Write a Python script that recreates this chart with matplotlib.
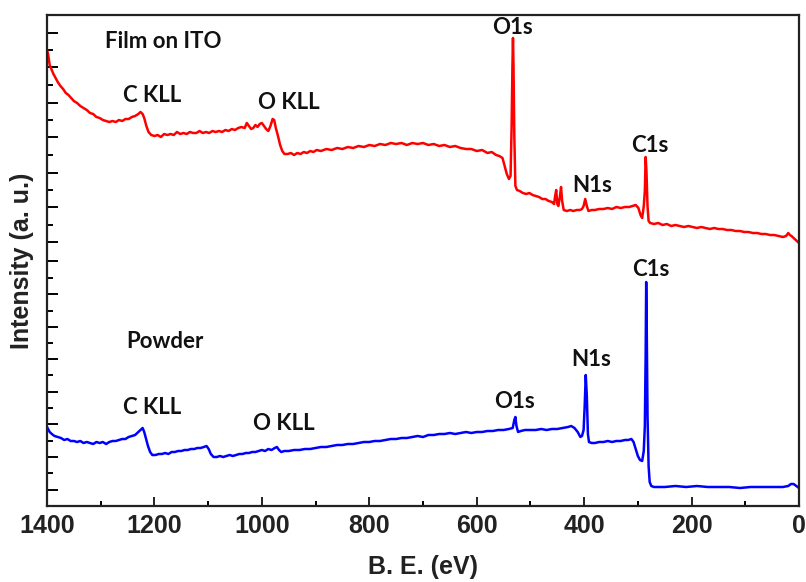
import matplotlib
matplotlib.use("Agg")
import matplotlib.pyplot as plt
from matplotlib.ticker import FixedLocator, MultipleLocator

# XPS survey spectra, binding energy (eV) vs intensity (a.u.)
film_be = [1400, 1398, 1395, 1392, 1388, 1384, 1380, 1375, 1370, 1365, 1360, 1355, 1350, 1344,
           1338, 1332, 1326, 1320, 1314, 1308, 1302, 1296, 1290, 1284, 1278, 1272, 1266, 1260,
           1254, 1248, 1242, 1236, 1230, 1226, 1222, 1219, 1215, 1211, 1206, 1200, 1194, 1188,
           1182, 1176, 1170, 1164, 1158, 1152, 1146, 1140, 1134, 1128, 1122, 1116, 1110, 1104,
           1098, 1092, 1086, 1080, 1074, 1068, 1062, 1056, 1050, 1044, 1038, 1032, 1028, 1024,
           1020, 1016, 1012, 1008, 1004, 1000, 996, 992, 988, 984, 980, 977, 974, 970, 966, 962,
           958, 952, 946, 940, 934, 928, 922, 916, 910, 904, 898, 890, 880, 870, 860, 850, 840,
           830, 820, 810, 800, 790, 780, 770, 760, 750, 740, 730, 720, 710, 700, 690, 680, 670,
           660, 650, 640, 630, 620, 610, 600, 590, 580, 572, 564, 558, 552, 548, 544, 540, 537,
           535, 533.5, 532.5, 531.5, 530, 528, 525, 520, 514, 508, 502, 496, 490, 484, 478, 472,
           466, 460, 456, 454, 452, 450, 448, 445, 443, 441, 438, 432, 426, 420, 414, 408, 404,
           401, 398, 395, 392, 386, 380, 372, 364, 356, 348, 340, 332, 324, 316, 310, 304, 299,
           295, 292, 289, 287, 285.5, 284, 282, 280, 277, 270, 262, 254, 246, 238, 230, 222, 214,
           206, 198, 190, 182, 174, 166, 158, 150, 142, 134, 126, 118, 110, 102, 94, 86, 78, 70,
           62, 54, 46, 38, 30, 24, 20, 17, 14, 10, 6, 2, 0]
film_int = [456, 452, 441, 437, 432, 428, 424, 420, 417, 413, 411, 408, 405, 403,
            400, 398, 396, 393, 392, 389, 388, 386, 385, 384, 385, 384, 386, 385,
            387, 387, 389, 390, 392, 394, 392, 388, 380, 374, 371, 370, 371, 369,
            372, 371, 372, 371, 374, 372, 373, 372, 374, 373, 373, 375, 373, 374,
            373, 375, 374, 375, 374, 376, 375, 377, 376, 378, 379, 378, 383, 380,
            377, 378, 381, 379, 382, 383, 380, 377, 375, 380, 387, 386, 378, 370, 361, 355,
            352, 352, 353, 351, 353, 352, 354, 353, 355, 354, 356, 355, 357, 356, 358, 357, 359,
            358, 360, 359, 361, 360, 362, 361, 363, 362, 363, 361, 363, 362, 363, 361, 362, 360,
            361, 359, 360, 358, 357, 357, 355, 356, 353, 354, 351, 350, 348, 340, 332, 327, 330,
            380, 440, 468, 440, 370, 320, 316, 315, 313, 312, 313, 311, 310, 309, 307, 307,
            305, 304, 302, 310, 316, 302, 300, 310, 319, 305, 296, 295, 296, 295, 296, 296, 297,
            300, 307, 300, 295, 296, 296, 297, 297, 298, 297, 299, 298, 299, 299, 300, 301, 298,
            291, 288, 300, 315, 349, 335, 300, 285, 283, 282, 283, 281, 282, 280, 281, 280, 279,
            280, 279, 278, 279, 278, 277, 278, 277, 277, 276, 276, 275, 275, 274, 274, 273, 273, 272,
            272, 271, 271, 270, 269, 270, 273, 271, 270, 268, 266, 264, 263]

powder_be = [1400, 1398, 1395, 1391, 1386, 1380, 1374, 1368, 1362, 1356, 1350, 1344, 1338, 1332,
             1326, 1320, 1314, 1308, 1302, 1296, 1290, 1284, 1278, 1272, 1266, 1260, 1254, 1248,
             1242, 1236, 1230, 1226, 1222, 1219, 1216, 1212, 1208, 1204, 1198, 1192, 1186, 1180,
             1174, 1168, 1162, 1156, 1150, 1144, 1138, 1132, 1126, 1120, 1114, 1108, 1103, 1099,
             1095, 1090, 1084, 1078, 1072, 1066, 1060, 1054, 1048, 1042, 1036, 1030, 1024, 1018,
             1012, 1006, 1000, 994, 988, 982, 976, 972, 968, 964, 958, 950, 940, 930, 920, 910,
             900, 890, 880, 870, 860, 850, 840, 830, 820, 810, 800, 790, 780, 770, 760, 750, 740,
             730, 720, 710, 700, 690, 680, 670, 660, 650, 640, 630, 620, 610, 600, 590, 580, 570,
             560, 550, 540, 533, 530, 528, 526, 523, 518, 510, 500, 490, 480, 470, 460, 450, 440,
             430, 424, 418, 412, 407, 404, 401, 399, 397, 395, 393, 391, 386, 380, 372, 364, 356,
             348, 340, 332, 324, 318, 312, 308, 304, 300, 296, 292, 289, 287, 285.5, 284.5, 283.5,
             282, 280, 278, 275, 270, 260, 250, 230, 210, 190, 170, 150, 130, 110, 90, 70, 50, 30,
             20, 15, 10, 5, 0]
powder_int = [79, 77, 74, 72, 70, 69, 68, 66, 67, 65, 65, 64, 65, 63,
              64, 63, 62, 64, 63, 64, 62, 64, 65, 65, 66, 67, 67, 69,
              70, 71, 74, 76, 78, 74, 68, 60, 54, 51, 51, 52, 52, 53,
              52, 54, 54, 55, 55, 56, 56, 57, 57, 58, 58, 59, 60, 57,
              52, 49, 49, 50, 49, 50, 51, 50, 51, 52, 52, 53, 53, 54,
              54, 55, 56, 55, 57, 56, 58, 59, 56, 54, 55, 55, 56, 56, 57, 57,
              58, 59, 59, 60, 61, 61, 62, 62, 63, 64, 64, 65, 65, 66, 67, 67, 68,
              68, 69, 70, 69, 71, 71, 72, 72, 73, 72, 73, 74, 73, 74, 74, 75, 75,
              76, 76, 77, 78, 86, 89, 80, 74, 75, 76, 76, 76, 77, 76, 77, 77, 78,
              79, 80, 78, 74, 69, 70, 76, 100, 131, 110, 72, 64, 63, 63, 64, 64, 65,
              64, 65, 65, 66, 66, 67, 64, 57, 50, 46, 45, 55, 80, 150, 224, 180,
              90, 40, 24, 20, 19, 19, 19, 20, 19, 20, 19, 19, 19, 18, 19, 19, 19, 19,
              20, 22, 22, 20, 18]

# peak labels: (text, BE, intensity)
film_labels = [("Film on ITO", 1184, 465), ("C KLL", 1204, 411), ("O KLL", 949, 404),
               ("O1s", 534, 479), ("N1s", 385, 321), ("C1s", 277, 361)]
powder_labels = [("Powder", 1180, 164), ("C KLL", 1204, 99), ("O KLL", 959, 83),
                 ("O1s", 529, 104), ("N1s", 387, 147), ("C1s", 275, 236)]

y_major = [473.3, 438.7, 403.3, 368.7, 333.3, 298.7, 263.7, 245.3, 212, 179.3, 146.7,
           114.3, 81.7, 49.3, 16]
y_minor = [456, 421, 386, 351, 316, 281, 228.3, 195.3, 163.3, 131, 97.7, 65.3, 32.7]

fig = plt.figure(figsize=(8.06, 5.82), dpi=100)
ax = fig.add_axes([47 / 806, 76 / 582, 752 / 806, 491 / 582])

ax.plot(film_be, film_int, color="#FF0000", lw=1.8)
ax.plot(powder_be, powder_int, color="#0000FF", lw=1.8)

label_font = dict(family=["Lato", "DejaVu Sans"], fontweight="bold", fontsize=16,
                  ha="center", va="center", color="#111111")
for text, be, inten in film_labels + powder_labels:
    ax.text(be, inten, text, **label_font)

ax.set_xlim(1400, 0)
ax.set_ylim(0, 491)
ax.xaxis.set_major_locator(MultipleLocator(200))
ax.xaxis.set_minor_locator(MultipleLocator(100))
ax.yaxis.set_major_locator(FixedLocator(y_major))
ax.yaxis.set_minor_locator(FixedLocator(y_minor))
ax.set_yticklabels([])

for side in ax.spines.values():
    side.set_linewidth(1.6)
    side.set_color("#222222")
ax.tick_params(axis="x", which="major", direction="in", length=6.5, width=1.4, pad=6,
               labelsize=18, colors="#222222")
ax.tick_params(axis="x", which="minor", direction="in", length=3.5, width=1.4)
ax.tick_params(axis="y", which="major", direction="in", length=8, width=1.4)
ax.tick_params(axis="y", which="minor", direction="in", length=4, width=1.4)
for lab in ax.get_xticklabels():
    lab.set_fontfamily("Liberation Sans")
    lab.set_fontweight("bold")

ax.set_xlabel("B. E. (eV)", fontsize=18, fontweight="bold", family="Liberation Sans",
              color="#222222", labelpad=12)
ax.set_ylabel("Intensity (a. u.)", fontsize=18, fontweight="bold", family="Liberation Sans",
              color="#222222", labelpad=6)

fig.savefig("out.png", dpi=100)
